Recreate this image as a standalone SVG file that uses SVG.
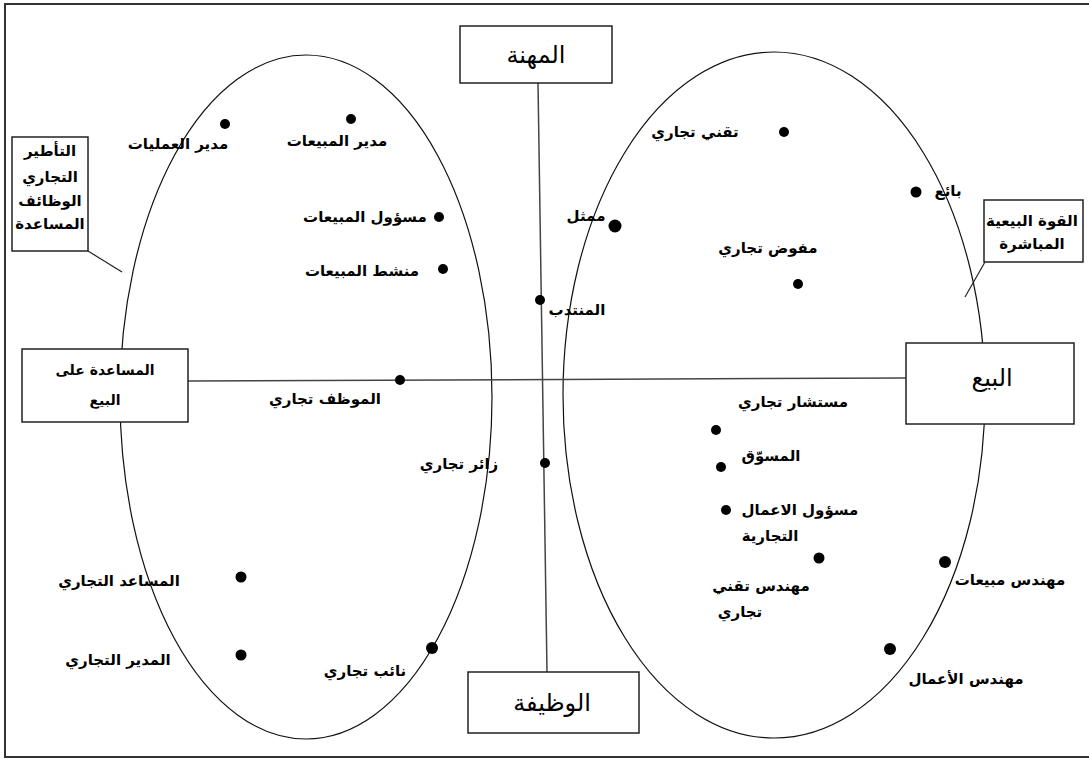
<svg xmlns="http://www.w3.org/2000/svg" width="1090" height="760" viewBox="0 0 1090 760">
<style>
.frame{fill:none;stroke:#333;stroke-width:2}
.ell{fill:none;stroke:#111;stroke-width:1.2}
.ax{fill:none;stroke:#444;stroke-width:1.5}
.box{fill:#fff;stroke:#222;stroke-width:1.5}
.lead{fill:none;stroke:#222;stroke-width:1.2}
.dot{fill:#000}
.lbl{font-family:"DejaVu Sans",sans-serif;font-weight:bold;font-size:15px;fill:#000;text-anchor:middle}
.sm{font-size:14px}
.ttl{font-family:"DejaVu Sans",sans-serif;font-size:24px;fill:#000;text-anchor:middle}
</style>
<rect width="1090" height="760" fill="#fff"/>
<path class="frame" d="M1089,4 H5 V757 H1089"/>
<g id="ellipses">
<ellipse class="ell" cx="306" cy="397" rx="186" ry="342"/>
<ellipse class="ell" cx="774" cy="395" rx="211" ry="343"/>
</g>
<g id="connectors">
<line class="ax" x1="538" y1="83" x2="547" y2="672"/>
<line class="ax" x1="188" y1="381" x2="906" y2="378"/>
<line class="lead" x1="88" y1="251" x2="122" y2="272"/>
<line class="lead" x1="985" y1="262" x2="965" y2="297"/>
</g>
<g id="box-mihna"><rect class="box" x="460" y="26" width="152" height="57"/><text class="ttl" x="536" y="63">المهنة</text></g>
<g id="box-wadhifa"><rect class="box" x="468" y="672" width="171" height="61"/><text class="ttl" x="552" y="711">الوظيفة</text></g>
<g id="box-musaada"><rect class="box" x="22" y="349" width="166" height="73"/><text class="lbl sm" x="105" y="375">المساعدة على</text><text class="lbl sm" x="105" y="405">البيع</text></g>
<g id="box-bay"><rect class="box" x="906" y="343" width="168" height="81"/><text class="ttl" x="992" y="386">البيع</text></g>
<g id="box-quwwa"><rect class="box" x="984" y="200" width="99" height="62"/><text class="lbl" x="1032" y="226">القوة البيعية</text><text class="lbl" x="1032" y="249">المباشرة</text></g>
<g id="box-taatir"><rect class="box" x="12" y="137" width="76" height="114"/><text class="lbl" x="50" y="156">التأطير</text><text class="lbl" x="50" y="182">التجاري</text><text class="lbl" x="50" y="206">الوظائف</text><text class="lbl" x="50" y="229">المساعدة</text></g>
<g id="n1"><circle class="dot" cx="225" cy="124" r="5"/><text class="lbl" x="178" y="149">مدير العمليات</text></g>
<g id="n2"><circle class="dot" cx="351" cy="119" r="5"/><text class="lbl" x="337" y="146">مدير المبيعات</text></g>
<g id="n3"><circle class="dot" cx="439" cy="217" r="5"/><text class="lbl" x="365" y="222">مسؤول المبيعات</text></g>
<g id="n4"><circle class="dot" cx="443" cy="269" r="5"/><text class="lbl" x="362" y="276">منشط المبيعات</text></g>
<g id="n5"><circle class="dot" cx="400" cy="380" r="5"/><text class="lbl" x="325" y="404">الموظف تجاري</text></g>
<g id="n6"><circle class="dot" cx="540" cy="300" r="5"/><text class="lbl" x="577" y="315">المنتدب</text></g>
<g id="n7"><circle class="dot" cx="545" cy="463" r="5"/><text class="lbl" x="459" y="469">زائر تجاري</text></g>
<g id="n8"><circle class="dot" cx="784" cy="132" r="5"/><text class="lbl" x="695" y="137">تقني تجاري</text></g>
<g id="n9"><circle class="dot" cx="615" cy="226" r="6.5"/><text class="lbl" x="586" y="221">ممثل</text></g>
<g id="n10"><circle class="dot" cx="798" cy="284" r="5"/><text class="lbl" x="768" y="253">مفوض تجاري</text></g>
<g id="n11"><circle class="dot" cx="916" cy="192" r="5.5"/><text class="lbl" x="948" y="196">بائع</text></g>
<g id="n12"><circle class="dot" cx="716" cy="430" r="5"/><text class="lbl" x="793" y="407">مستشار تجاري</text></g>
<g id="n13"><circle class="dot" cx="721" cy="467" r="5"/><text class="lbl" x="771" y="461">المسوّق</text></g>
<g id="n14"><circle class="dot" cx="726" cy="510" r="5"/><text class="lbl" x="800" y="515">مسؤول الاعمال</text><text class="lbl" x="770" y="541">التجارية</text></g>
<g id="n15"><circle class="dot" cx="819" cy="558" r="5.5"/><text class="lbl" x="761" y="591">مهندس تقني</text><text class="lbl" x="740" y="617">تجاري</text></g>
<g id="n16"><circle class="dot" cx="945" cy="562" r="6"/><text class="lbl" x="1010" y="585">مهندس مبيعات</text></g>
<g id="n17"><circle class="dot" cx="890" cy="649" r="6"/><text class="lbl" x="966" y="684">مهندس الأعمال</text></g>
<g id="n18"><circle class="dot" cx="241" cy="577" r="5.5"/><text class="lbl" x="119" y="586">المساعد التجاري</text></g>
<g id="n19"><circle class="dot" cx="241" cy="655" r="5.5"/><text class="lbl" x="118" y="665">المدير التجاري</text></g>
<g id="n20"><circle class="dot" cx="432" cy="648" r="6"/><text class="lbl" x="365" y="676">نائب تجاري</text></g>
</svg>
